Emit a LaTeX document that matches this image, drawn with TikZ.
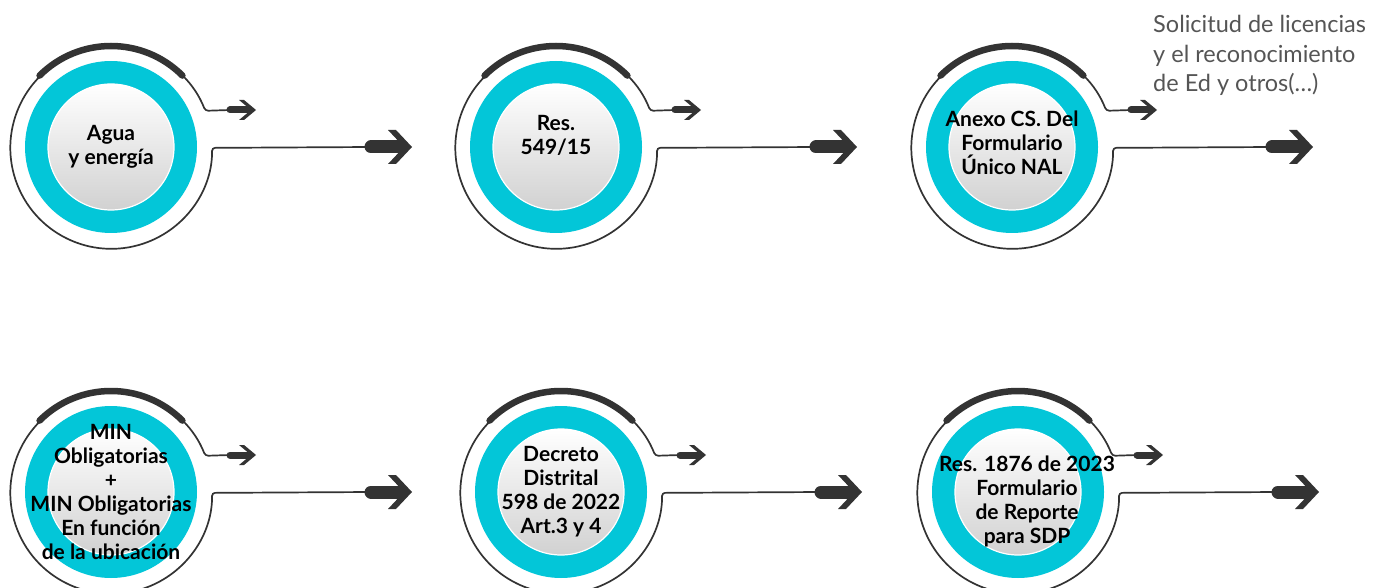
\documentclass[tikz,border=0pt]{standalone}
\usepackage{fontspec}
\setmainfont{Lato}
\usetikzlibrary{calc}
\definecolor{turq}{RGB}{3,198,216}
\definecolor{tinta}{RGB}{51,51,51}
\definecolor{nota}{RGB}{85,85,85}

% one milestone: ring, label and its two outgoing arrows
\newcommand{\hito}[4][]{%
  \node[borde] (#2-o) at (#3) {};
  \coordinate (#2-s) at ($(#2-o)+(119,37)$);
  \coordinate (#2-k) at ($(#2-o)+(137,37)$);
  \coordinate (#2-S) at ($(#2-o)+(145,37)$);
  \coordinate (#2-b) at ($(#2-o)+(260,0)$);
  \coordinate (#2-K) at ($(#2-o)+(289,0)$);
  \coordinate (#2-B) at ($(#2-o)+(301,0)$);
  \draw[hilo] (#2-s) -- (#2-o.21.5) arc[start angle=21.5,end angle=356,radius=101]
    -- ++(0,7) -- (#2-b);
  \draw[arco] (#2-o.45) arc[start angle=45,end angle=135,radius=101];
  \node[anillo] (#2) at (#2-o) {};
  \node[nucleo] (#2-n) at (#2) {};
  \node[rotulo,#1] (#2-t) at (#2) {#4};
  \draw[flechita] (#2-s) -- (#2-k);
  \fill[tinta] ($(#2-S)+(-17,10)$) -- ++(5,0) -- (#2-S) -- ++(-12,-10) -- ++(-5,0) -- ++(12,10) -- cycle;
  \draw[flecha] (#2-b) -- (#2-K);
  \fill[tinta] ($(#2-B)+(-24,17)$) -- ++(8,0) -- (#2-B) -- ++(-16,-17) -- ++(-8,0) -- ++(16,17) -- cycle;
}

\begin{document}
\begin{tikzpicture}[
  x=1pt,y=1pt,
  borde/.style={circle,minimum size=202pt,inner sep=0pt,outer sep=0pt},
  anillo/.style={circle,fill=turq,minimum size=172pt,inner sep=0pt},
  nucleo/.style={circle,minimum size=126pt,inner sep=0pt,draw=white,line width=1.2pt,
                 top color=white,bottom color=black!18},
  rotulo/.style={align=center,inner sep=0pt,font=\fontsize{21}{24}\selectfont\bfseries},
  hilo/.style={tinta,line width=1.7pt,rounded corners=3pt},
  arco/.style={tinta,line width=6.5pt,line cap=round},
  flecha/.style={tinta,line width=13pt,line cap=round},
  flechita/.style={tinta,line width=7pt,line cap=round}
]
\useasboundingbox (0,0) rectangle (1388,587);
\hito{agua}{111,440}{Agua\\y energía}
\hito[yshift=12pt]{res}{556,440}{Res.\\549/15}
\hito[yshift=4pt]{anexo}{1012,440}{Anexo CS. Del\\Formulario\\Único NAL}
\hito{min}{111,95}{MIN\\Obligatorias\\+\\MIN Obligatorias\\En función\\de la ubicación}
\hito{decreto}{561,95}{Decreto\\Distrital\\598 de 2022\\Art.3 y 4}
\hito[xshift=9pt,yshift=-9pt]{reporte}{1018,95}{Res. 1876 de 2023\\Formulario\\de Reporte\\para SDP}
\node[anchor=base west,align=left,text=nota,inner sep=0pt,
      font=\fontsize{23.5}{29.5}\selectfont] (solicitud) at (1153,495)
  {Solicitud de licencias\\y el reconocimiento\\de Ed y otros(…)};
\end{tikzpicture}
\end{document}
